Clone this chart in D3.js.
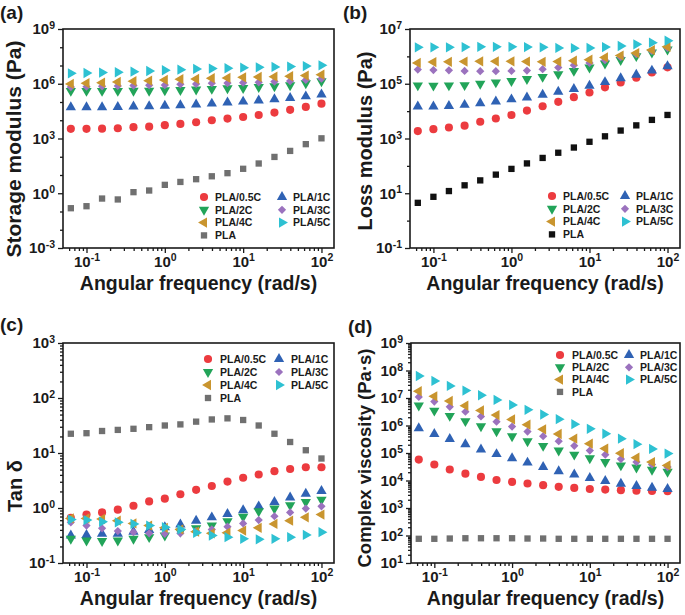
<!DOCTYPE html>
<html><head><meta charset="utf-8">
<script src="https://cdn.jsdelivr.net/npm/d3@7"></script>
<style>
body{margin:0;background:#fff}
svg{font-family:"Liberation Sans",Arial,sans-serif;font-weight:bold}
</style>
</head><body>
<svg id="chart" width="685" height="615"></svg>
<script>
// ---------- DATA (y values given as log10 of the plotted value) ----------
const freq = [0.0631,0.1,0.158,0.251,0.398,0.631,1,1.58,2.51,3.98,6.31,10,15.8,25.1,39.8,63.1,100];
const seriesNames = ["PLA/0.5C","PLA/1C","PLA/2C","PLA/3C","PLA/4C","PLA/5C","PLA"];

// (a) Storage modulus (Pa), log10
const storage05C = [3.53,3.53,3.54,3.56,3.62,3.65,3.73,3.80,3.89,4.00,4.09,4.18,4.29,4.42,4.57,4.73,4.91];
const storage1C  = [4.71,4.71,4.71,4.73,4.75,4.77,4.80,4.82,4.86,4.91,4.97,5.02,5.08,5.15,5.22,5.31,5.41];
const storage2C  = [5.61,5.61,5.61,5.61,5.62,5.62,5.64,5.66,5.68,5.72,5.75,5.77,5.82,5.86,5.92,6.03,6.14];
const storage3C  = [5.82,5.84,5.86,5.88,5.90,5.92,5.93,5.97,5.99,6.03,6.04,6.06,6.08,6.12,6.15,6.21,6.28];
const storage4C  = [5.99,6.03,6.06,6.10,6.14,6.17,6.21,6.25,6.26,6.30,6.32,6.35,6.37,6.39,6.41,6.45,6.50];
const storage5C  = [6.57,6.59,6.61,6.63,6.66,6.70,6.74,6.77,6.81,6.83,6.85,6.88,6.90,6.92,6.94,6.97,7.01];
const storagePLA = [-0.82,-0.71,-0.29,-0.34,0.06,0.15,0.46,0.62,0.77,0.93,1.10,1.34,1.63,1.99,2.32,2.69,3.01];

// (b) Loss modulus (Pa), log10
const loss05C = [3.27,3.34,3.40,3.47,3.61,3.73,3.86,4.02,4.18,4.34,4.51,4.68,4.87,5.05,5.22,5.41,5.60];
const loss1C  = [4.17,4.17,4.19,4.23,4.29,4.35,4.43,4.50,4.60,4.71,4.81,4.93,5.06,5.20,5.33,5.48,5.64];
const loss2C  = [4.94,4.93,4.94,4.95,5.00,5.05,5.10,5.17,5.25,5.35,5.47,5.59,5.74,5.87,6.01,6.14,6.25];
const loss3C  = [5.52,5.50,5.49,5.47,5.46,5.46,5.47,5.48,5.53,5.59,5.68,5.76,5.86,5.97,6.08,6.20,6.31];
const loss4C  = [5.76,5.79,5.80,5.81,5.82,5.82,5.82,5.81,5.80,5.81,5.84,5.88,5.96,6.03,6.12,6.23,6.35];
const loss5C  = [6.33,6.33,6.33,6.34,6.35,6.35,6.35,6.34,6.33,6.31,6.30,6.31,6.34,6.38,6.44,6.50,6.57];
const lossPLA = [0.65,0.87,1.08,1.29,1.47,1.68,1.89,2.09,2.29,2.48,2.67,2.88,3.08,3.29,3.48,3.68,3.86];

// (c) Tan delta, log10
const tan05C = [-0.18,-0.12,-0.08,-0.03,0.04,0.12,0.17,0.25,0.33,0.40,0.48,0.55,0.61,0.67,0.71,0.74,0.74];
const tan1C  = [-0.50,-0.49,-0.47,-0.47,-0.43,-0.40,-0.35,-0.30,-0.23,-0.17,-0.11,-0.04,0.03,0.11,0.19,0.26,0.31];
const tan2C  = [-0.56,-0.59,-0.60,-0.59,-0.56,-0.53,-0.50,-0.43,-0.37,-0.32,-0.24,-0.16,-0.06,-0.01,0.05,0.11,0.15];
const tan3C  = [-0.26,-0.32,-0.37,-0.42,-0.44,-0.46,-0.47,-0.46,-0.42,-0.39,-0.34,-0.28,-0.22,-0.15,-0.08,-0.01,0.03];
const tan4C  = [-0.19,-0.19,-0.20,-0.23,-0.28,-0.32,-0.36,-0.39,-0.43,-0.46,-0.45,-0.41,-0.36,-0.29,-0.23,-0.17,-0.12];
const tan5C  = [-0.21,-0.22,-0.25,-0.26,-0.29,-0.32,-0.35,-0.39,-0.45,-0.50,-0.53,-0.56,-0.57,-0.56,-0.53,-0.49,-0.44];
const tanPLA = [1.35,1.36,1.40,1.42,1.44,1.47,1.50,1.52,1.57,1.61,1.63,1.60,1.50,1.35,1.20,1.05,0.90];

// (d) Complex viscosity (Pa·s), log10
const visc05C = [4.76,4.58,4.40,4.25,4.13,4.02,3.95,3.89,3.83,3.77,3.73,3.69,3.67,3.65,3.63,3.62,3.61];
const visc1C  = [5.90,5.69,5.51,5.32,5.13,4.96,4.81,4.65,4.49,4.34,4.22,4.09,3.98,3.88,3.80,3.74,3.69];
const visc2C  = [6.73,6.54,6.35,6.16,5.97,5.79,5.61,5.43,5.26,5.09,4.94,4.81,4.67,4.55,4.47,4.39,4.32];
const visc3C  = [7.04,6.87,6.68,6.50,6.33,6.14,5.96,5.78,5.61,5.43,5.26,5.09,4.94,4.78,4.67,4.58,4.49];
const visc4C  = [7.25,7.06,6.89,6.72,6.55,6.38,6.22,6.03,5.86,5.69,5.52,5.34,5.16,4.99,4.83,4.67,4.55];
const visc5C  = [7.80,7.62,7.44,7.27,7.10,6.93,6.75,6.57,6.40,6.23,6.05,5.88,5.70,5.52,5.32,5.15,4.98];
const viscPLA = [1.88,1.88,1.89,1.90,1.90,1.90,1.90,1.89,1.89,1.88,1.88,1.88,1.88,1.88,1.88,1.88,1.88];

// tick labels (exponents of 10)
const xTickExp = [-1,0,1,2];
const yTickExpA = [-3,0,3,6,9];
const yTickExpB = [-1,1,3,5,7];
const yTickExpC = [-1,0,1,2,3];
const yTickExpD = [1,2,3,4,5,6,7,8,9];

const xTitle = "Angular frequency (rad/s)";
// ---------------------------------------------------------------------

const svg = d3.select("#chart");
const axisColor = "#1a1a1a";

const styles = {
  "PLA/0.5C": {sym: d3.symbolCircle,   size: 52, rot: 0,   color: "#EC3B3F"},
  "PLA/1C":   {sym: d3.symbolTriangle, size: 46, rot: 0,   color: "#2F62B4"},
  "PLA/2C":   {sym: d3.symbolTriangle, size: 46, rot: 180, color: "#22A459"},
  "PLA/3C":   {sym: d3.symbolSquare,   size: 34, rot: 45,  color: "#9B72BE"},
  "PLA/4C":   {sym: d3.symbolTriangle, size: 46, rot: -90, color: "#C9952F"},
  "PLA/5C":   {sym: d3.symbolTriangle, size: 46, rot: 90,  color: "#2EC1D2"},
  "PLA":      {sym: d3.symbolSquare,   size: 40, rot: 0,   color: "#707070"}
};

const panels = [
  {label:"(a)", lx:0, ly:19, x0:63, x1:334, y0:29, y1:248, ydom:[1e-3,1e9], yMajor:yTickExpA, minorEvery:"decade",
   ytitle:"Storage modulus (Pa)", ytx:13, yty:149, ytSize:21, xtOff:42,
   series:[storage05C,storage1C,storage2C,storage3C,storage4C,storage5C,storagePLA], plaColor:"#707070",
   leg:{m1:204,t1:215,m2:282,t2:293,y:197,dy:12.8}},
  {label:"(b)", lx:343, ly:19, x0:410, x1:680, y0:29, y1:248, ydom:[1e-1,1e7], yMajor:yTickExpB, minorEvery:"decade",
   ytitle:"Loss modulus (Pa)", ytx:365, yty:141, ytSize:20, xtOff:42,
   series:[loss05C,loss1C,loss2C,loss3C,loss4C,loss5C,lossPLA], plaColor:"#111111",
   leg:{m1:552,t1:563,m2:625,t2:636,y:196,dy:12.8}},
  {label:"(c)", lx:0, ly:331, x0:63, x1:334, y0:343, y1:563, ydom:[1e-1,1e3], yMajor:yTickExpC, minorEvery:"sub",
   ytitle:"Tan δ", ytx:15, yty:486, ytSize:20, xtOff:42,
   series:[tan05C,tan1C,tan2C,tan3C,tan4C,tan5C,tanPLA], plaColor:"#707070",
   leg:{m1:208,t1:220,m2:279,t2:291,y:359,dy:13}},
  {label:"(d)", lx:348, ly:333, x0:411, x1:680, y0:343, y1:563, ydom:[1e1,1e9], yMajor:yTickExpD, minorEvery:"sub",
   ytitle:"Complex viscosity (Pa·s)", ytx:364, yty:458, ytSize:18.5, xtOff:42,
   series:[visc05C,visc1C,visc2C,visc3C,visc4C,visc5C,viscPLA], plaColor:"#707070",
   leg:{m1:560,t1:572,m2:629,t2:640,y:355,dy:12.3}}
];

const xDomain = [Math.pow(10,-1.30), Math.pow(10,2.16)];

function supLabels(sel){
  sel.selectAll(".tick text").each(function(d){
    const e = Math.round(Math.log10(d));
    const t = d3.select(this);
    t.text("");
    t.append("tspan").text("10");
    t.append("tspan").attr("dy","-0.5em").attr("font-size","10.5px").text(e);
  });
}

function symPath(name){
  const s = styles[name];
  return d3.symbol().type(s.sym).size(s.size)();
}

panels.forEach(p => {
  const g = svg.append("g");
  const x = d3.scaleLog().domain(xDomain).range([p.x0, p.x1]);
  const y = d3.scaleLog().domain(p.ydom).range([p.y1, p.y0]);

  const xMinor = [];
  for (let e = -2; e <= 2; e++) for (let k = 2; k <= 9; k++) {
    const v = k * Math.pow(10, e);
    if (v >= xDomain[0] && v <= xDomain[1]) xMinor.push(v);
  }
  const yLo = Math.round(Math.log10(p.ydom[0])), yHi = Math.round(Math.log10(p.ydom[1]));
  const yMinor = [];
  if (p.minorEvery === "decade") {
    for (let e = yLo; e <= yHi; e++) if (!p.yMajor.includes(e)) yMinor.push(Math.pow(10, e));
  } else {
    for (let e = yLo; e < yHi; e++) for (let k = 2; k <= 9; k++) yMinor.push(k * Math.pow(10, e));
  }

  const gx = g.append("g").attr("transform", `translate(0,${p.y1})`)
    .call(d3.axisBottom(x).tickValues(xTickExp.map(e => Math.pow(10, e))).tickSize(5).tickPadding(3));
  const gxm = g.append("g").attr("transform", `translate(0,${p.y1})`)
    .call(d3.axisBottom(x).tickValues(xMinor).tickSize(3).tickFormat(""));
  const gy = g.append("g").attr("transform", `translate(${p.x0},0)`)
    .call(d3.axisLeft(y).tickValues(p.yMajor.map(e => Math.pow(10, e))).tickSize(5).tickPadding(3));
  const gym = g.append("g").attr("transform", `translate(${p.x0},0)`)
    .call(d3.axisLeft(y).tickValues(yMinor).tickSize(3).tickFormat(""));

  [gx, gxm, gy, gym].forEach(a => {
    a.select(".domain").remove();
    a.selectAll(".tick line").attr("stroke", axisColor).attr("stroke-width", 1.3);
    a.selectAll(".tick text").attr("fill", axisColor).attr("font-size", "15px")
      .attr("font-family", "'Liberation Sans',Arial,sans-serif").attr("font-weight", "bold");
  });
  supLabels(gx); supLabels(gy);

  g.append("rect").attr("x", p.x0).attr("y", p.y0)
    .attr("width", p.x1 - p.x0).attr("height", p.y1 - p.y0)
    .attr("fill", "none").attr("stroke", axisColor).attr("stroke-width", 1.6);

  const order = [6, 0, 1, 2, 3, 4, 5];
  order.forEach(i => {
    const name = seriesNames[i];
    const st = styles[name];
    const col = name === "PLA" ? p.plaColor : st.color;
    g.append("g").selectAll("path").data(p.series[i].map((v, j) => ({f: freq[j], v: Math.pow(10, v)})))
      .join("path")
      .attr("d", symPath(name))
      .attr("transform", d => `translate(${x(d.f)},${y(d.v)}) rotate(${st.rot})`)
      .attr("fill", col);
  });

  const rows = [["PLA/0.5C","PLA/1C"],["PLA/2C","PLA/3C"],["PLA/4C","PLA/5C"],["PLA",null]];
  const lg = g.append("g");
  rows.forEach((r, ri) => {
    r.forEach((name, ci) => {
      if (!name) return;
      const st = styles[name];
      const col = name === "PLA" ? p.plaColor : st.color;
      const mx = ci === 0 ? p.leg.m1 : p.leg.m2;
      const tx = ci === 0 ? p.leg.t1 : p.leg.t2;
      const yy = p.leg.y + ri * p.leg.dy;
      lg.append("path").attr("d", symPath(name))
        .attr("transform", `translate(${mx},${yy}) rotate(${st.rot})`).attr("fill", col);
      lg.append("text").attr("x", tx).attr("y", yy).attr("dy", "0.36em")
        .attr("font-size", "10.5px").attr("fill", axisColor).text(name);
    });
  });

  g.append("text").attr("x", (p.x0 + p.x1) / 2).attr("y", p.y1 + p.xtOff)
    .attr("text-anchor", "middle").attr("font-size", "19.5px").attr("fill", axisColor).text(xTitle);
  g.append("text").attr("transform", `translate(${p.ytx},${p.yty}) rotate(-90)`)
    .attr("text-anchor", "middle").attr("dy", "0.36em").attr("font-size", p.ytSize + "px").attr("fill", axisColor).text(p.ytitle);
  g.append("text").attr("x", p.lx).attr("y", p.ly).attr("font-size", "19px").attr("fill", axisColor).text(p.label);
});
</script>
</body></html>
